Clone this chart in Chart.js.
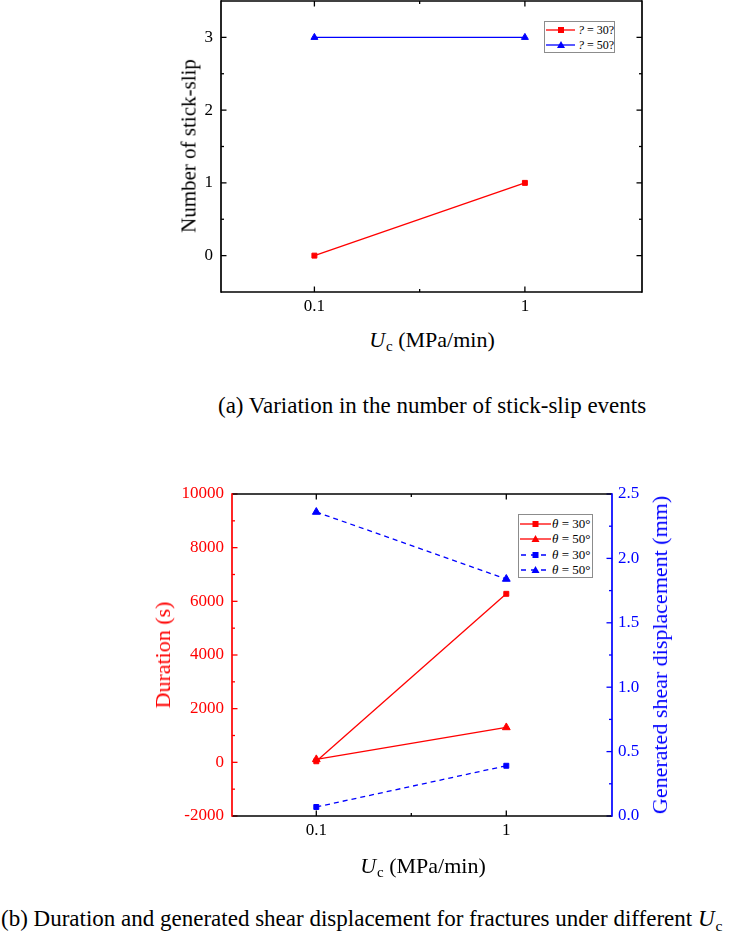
<!DOCTYPE html>
<html>
<head>
<meta charset="utf-8">
<script src="https://cdn.jsdelivr.net/npm/chart.js@4.4.1/dist/chart.umd.min.js"></script>
<style>
html,body{margin:0;padding:0;background:#fff;}
#page{position:relative;width:733px;height:940px;overflow:hidden;font-family:"Liberation Serif","Times New Roman",serif;color:#000;}
canvas{position:absolute;left:0;}
.t{position:absolute;white-space:nowrap;line-height:1;}
.rot{transform:translate(-50%,-50%) rotate(-90deg);}
.ctr{transform:translate(-50%,-50%);}
.lft{transform:translateY(-50%);}
.sub{font-size:0.68em;position:relative;top:0.3em;margin-left:1px;}
.legend{position:absolute;border:1px solid #8c8c8c;background:#fff;box-sizing:border-box;}
.legend .row{position:absolute;left:0;right:0;height:14px;}
.legend svg{position:absolute;top:0;}
.legend span{position:absolute;top:0;line-height:14px;white-space:nowrap;}
</style>
</head>
<body>
<div id="page">
  <canvas id="c1" width="733" height="350" style="top:-30px;width:733px;height:350px"></canvas>
  <canvas id="c2" width="733" height="400" style="top:460px;width:733px;height:400px"></canvas>

  <div class="t rot" style="left:189px;top:146px;font-size:21px;">Number of stick-slip</div>
  <div class="t ctr" style="left:432px;top:340px;font-size:22px;"><i>U</i><span class="sub">c</span> (MPa/min)</div>
  <div class="t lft" style="left:218px;top:405px;font-size:23px;">(a) Variation in the number of stick-slip events</div>

  <div class="t rot" style="left:163px;top:655px;font-size:22px;color:#ff0000;">Duration (s)</div>
  <div class="t rot" style="left:660px;top:655px;font-size:22px;color:#0000ff;">Generated shear displacement (mm)</div>
  <div class="t ctr" style="left:423px;top:866px;font-size:22px;"><i>U</i><span class="sub">c</span> (MPa/min)</div>
  <div class="t lft" style="left:1px;top:918px;font-size:23px;">(b) Duration and generated shear displacement for fractures under different <i>U</i><span class="sub">c</span></div>

  <div id="legA" class="legend" style="left:544px;top:21px;width:71px;height:32px;"></div>
  <div id="legB" class="legend" style="left:518px;top:514px;width:75px;height:64px;"></div>
</div>
<script>
// ---------- data ----------
const ucValues = [0.1, 1];
const ucTickLabels = ['0.1', '1'];

const stickSlip30 = [0, 1];
const stickSlip50 = [3, 3];
const countTicks = [0, 1, 2, 3];
const legendLabelsA = ['? = 30?', '? = 50?'];

const duration30 = [40, 6280];
const duration50 = [110, 1300];
const shear30 = [0.07, 0.39];
const shear50 = [2.36, 1.84];
const durationTicks = [-2000, 0, 2000, 4000, 6000, 8000, 10000];
const shearTicks = [0, 0.5, 1.0, 1.5, 2.0, 2.5];
const legendLabelsB = ['θ = 30°', 'θ = 50°', 'θ = 30°', 'θ = 50°'];

const RED = '#ff0000', BLUE = '#0000ff';
const FONT = {family: "'Liberation Serif', 'Times New Roman', serif", size: 17};

// ---------- helpers ----------
const pts = (xs, ys) => xs.map((x, i) => ({x: x, y: ys[i]}));
const mids = arr => arr.slice(0, -1).map((v, i) => (v + arr[i + 1]) / 2);
const ucMinor = ucValues.slice(0, -1).map((v, i) => Math.sqrt(v * ucValues[i + 1]));
const GRID = {display: false, drawTicks: false, tickLength: 0};

const framePlugin = {
  id: 'frame',
  afterDatasetsDraw(chart, args, opts) {
    const {ctx, chartArea: a, scales} = chart;
    ctx.save();
    ctx.lineWidth = 1.3;
    ctx.lineCap = 'butt';
    (opts.ticks || []).forEach(t => {
      const sc = scales[t.scale];
      ctx.strokeStyle = t.color;
      t.values.forEach(v => {
        const p = sc.getPixelForValue(v);
        t.sides.forEach(side => {
          ctx.beginPath();
          if (side === 'bottom') { ctx.moveTo(p, a.bottom); ctx.lineTo(p, a.bottom - t.len); }
          else if (side === 'top') { ctx.moveTo(p, a.top); ctx.lineTo(p, a.top + t.len); }
          else if (side === 'left') { ctx.moveTo(a.left, p); ctx.lineTo(a.left + t.len, p); }
          else { ctx.moveTo(a.right, p); ctx.lineTo(a.right - t.len, p); }
          ctx.stroke();
        });
      });
    });
    ctx.lineWidth = 1.7;
    const s = opts.sides;
    [['top', a.left, a.top, a.right, a.top], ['bottom', a.left, a.bottom, a.right, a.bottom],
     ['left', a.left, a.top - 0.8, a.left, a.bottom + 0.8], ['right', a.right, a.top - 0.8, a.right, a.bottom + 0.8]]
      .forEach(([k, x1, y1, x2, y2]) => {
        ctx.strokeStyle = s[k];
        ctx.beginPath(); ctx.moveTo(x1, y1); ctx.lineTo(x2, y2); ctx.stroke();
      });
    ctx.restore();
  }
};

function xScale(height) {
  return {
    type: 'logarithmic', position: 'bottom', min: 0.036, max: 3.6,
    grid: GRID, border: {display: false},
    afterBuildTicks: sc => { sc.ticks = ucValues.map(v => ({value: v})); },
    afterFit: sc => { sc.height = height; },
    ticks: {font: FONT, color: '#000', padding: 4, maxRotation: 0, autoSkip: false,
      callback: v => { const i = ucValues.indexOf(v); return i >= 0 ? ucTickLabels[i] : ''; }}
  };
}

function ds(label, data, color, style, radius, dash, axis) {
  const d = {label, data, borderColor: color, backgroundColor: color, borderWidth: 1.3,
    pointStyle: style, pointRadius: radius, pointBorderWidth: 1, pointBorderColor: color,
    pointBackgroundColor: color, fill: false, tension: 0};
  if (dash) d.borderDash = dash;
  if (axis) d.yAxisID = axis;
  return d;
}

// ---------- chart (a) ----------
new Chart(document.getElementById('c1'), {
  type: 'line',
  data: {datasets: [
    ds(legendLabelsA[0], pts(ucValues, stickSlip30), RED, 'rect', 3.5),
    ds(legendLabelsA[1], pts(ucValues, stickSlip50), BLUE, 'triangle', 4)
  ]},
  options: {
    responsive: false, animation: false,
    layout: {padding: {left: 0, right: 91, top: 31, bottom: 0}},
    plugins: {
      legend: {display: false}, tooltip: {enabled: false},
      frame: {
        sides: {top: '#000', bottom: '#000', left: '#000', right: '#000'},
        ticks: [
          {scale: 'x', values: ucValues, len: 5.5, sides: ['bottom', 'top'], color: '#000'},
          {scale: 'x', values: ucMinor, len: 3, sides: ['bottom', 'top'], color: '#000'},
          {scale: 'y', values: countTicks, len: 5.5, sides: ['left', 'right'], color: '#000'},
          {scale: 'y', values: mids(countTicks), len: 3, sides: ['left', 'right'], color: '#000'}
        ]
      }
    },
    scales: {
      x: xScale(28),
      y: {
        type: 'linear', position: 'left', min: -0.5, max: 3.5,
        grid: GRID, border: {display: false},
        afterBuildTicks: sc => { sc.ticks = countTicks.map(v => ({value: v})); },
        afterFit: sc => { sc.width = 221; },
        ticks: {font: FONT, color: '#000', padding: 8, callback: v => String(v)}
      }
    }
  },
  plugins: [framePlugin]
});

// ---------- chart (b) ----------
new Chart(document.getElementById('c2'), {
  type: 'line',
  data: {datasets: [
    ds(legendLabelsB[0], pts(ucValues, duration30), RED, 'rect', 3.5, null, 'yL'),
    ds(legendLabelsB[1], pts(ucValues, duration50), RED, 'triangle', 4.5, null, 'yL'),
    ds(legendLabelsB[2], pts(ucValues, shear30), BLUE, 'rect', 3.5, [5, 4], 'yR'),
    ds(legendLabelsB[3], pts(ucValues, shear50), BLUE, 'triangle', 4.5, [5, 4], 'yR')
  ]},
  options: {
    responsive: false, animation: false,
    layout: {padding: {left: 0, right: 0, top: 34, bottom: 0}},
    plugins: {
      legend: {display: false}, tooltip: {enabled: false},
      frame: {
        sides: {top: '#000', bottom: '#000', left: RED, right: BLUE},
        ticks: [
          {scale: 'x', values: ucValues, len: 5.5, sides: ['bottom', 'top'], color: '#000'},
          {scale: 'x', values: ucMinor, len: 3, sides: ['bottom', 'top'], color: '#000'},
          {scale: 'yL', values: durationTicks, len: 5.5, sides: ['left'], color: RED},
          {scale: 'yL', values: mids(durationTicks), len: 3, sides: ['left'], color: RED},
          {scale: 'yR', values: shearTicks, len: 5.5, sides: ['right'], color: BLUE},
          {scale: 'yR', values: mids(shearTicks), len: 3, sides: ['right'], color: BLUE}
        ]
      }
    },
    scales: {
      x: xScale(44),
      yL: {
        type: 'linear', position: 'left', min: durationTicks[0], max: durationTicks[durationTicks.length - 1],
        grid: GRID, border: {display: false},
        afterBuildTicks: sc => { sc.ticks = durationTicks.map(v => ({value: v})); },
        afterFit: sc => { sc.width = 232; },
        ticks: {font: FONT, color: RED, padding: 8, callback: v => String(v)}
      },
      yR: {
        type: 'linear', position: 'right', min: shearTicks[0], max: shearTicks[shearTicks.length - 1],
        grid: GRID, border: {display: false},
        afterBuildTicks: sc => { sc.ticks = shearTicks.map(v => ({value: v})); },
        afterFit: sc => { sc.width = 121; },
        ticks: {font: FONT, color: BLUE, padding: 6, callback: v => v.toFixed(1)}
      }
    }
  },
  plugins: [framePlugin]
});

// ---------- HTML legends ----------
function marker(style, color, cx, cy) {
  if (style === 'rect') return `<rect x="${cx - 3}" y="${cy - 3}" width="6" height="6" fill="${color}"/>`;
  return `<polygon points="${cx},${cy - 4} ${cx + 4},${cy + 3} ${cx - 4},${cy + 3}" fill="${color}"/>`;
}
function buildLegend(el, items, opt) {
  el.innerHTML = items.map((it, i) => {
    const top = opt.first + i * opt.step - 7;
    const dash = it.dash ? ` stroke-dasharray="${it.dash.join(',')}" stroke-dashoffset="-1"` : '';
    const svg = `<svg width="${opt.lineW}" height="14" style="left:${opt.lineX}px">` +
      `<line x1="0" y1="7" x2="${opt.lineW}" y2="7" stroke="${it.color}" stroke-width="1.3"${dash}/>` +
      marker(it.style, it.color, opt.markX, 7) + `</svg>`;
    return `<div class="row" style="top:${top}px">${svg}<span style="left:${opt.textX}px;font-size:${opt.size}px">${it.html}</span></div>`;
  }).join('');
}
const italicFirst = s => `<i>${s.charAt(0)}</i>${s.slice(1)}`;
buildLegend(document.getElementById('legA'), [
  {color: RED, style: 'rect', html: italicFirst(legendLabelsA[0])},
  {color: BLUE, style: 'triangle', html: italicFirst(legendLabelsA[1])}
], {first: 8, step: 14.5, lineX: 1, lineW: 29, markX: 15, textX: 33, size: 12});
buildLegend(document.getElementById('legB'), [
  {color: RED, style: 'rect', html: italicFirst(legendLabelsB[0])},
  {color: RED, style: 'triangle', html: italicFirst(legendLabelsB[1])},
  {color: BLUE, style: 'rect', dash: [5, 5], html: italicFirst(legendLabelsB[2])},
  {color: BLUE, style: 'triangle', dash: [5, 5], html: italicFirst(legendLabelsB[3])}
], {first: 8.5, step: 15.6, lineX: 1, lineW: 31, markX: 15.5, textX: 33, size: 13});
</script>
</body>
</html>
